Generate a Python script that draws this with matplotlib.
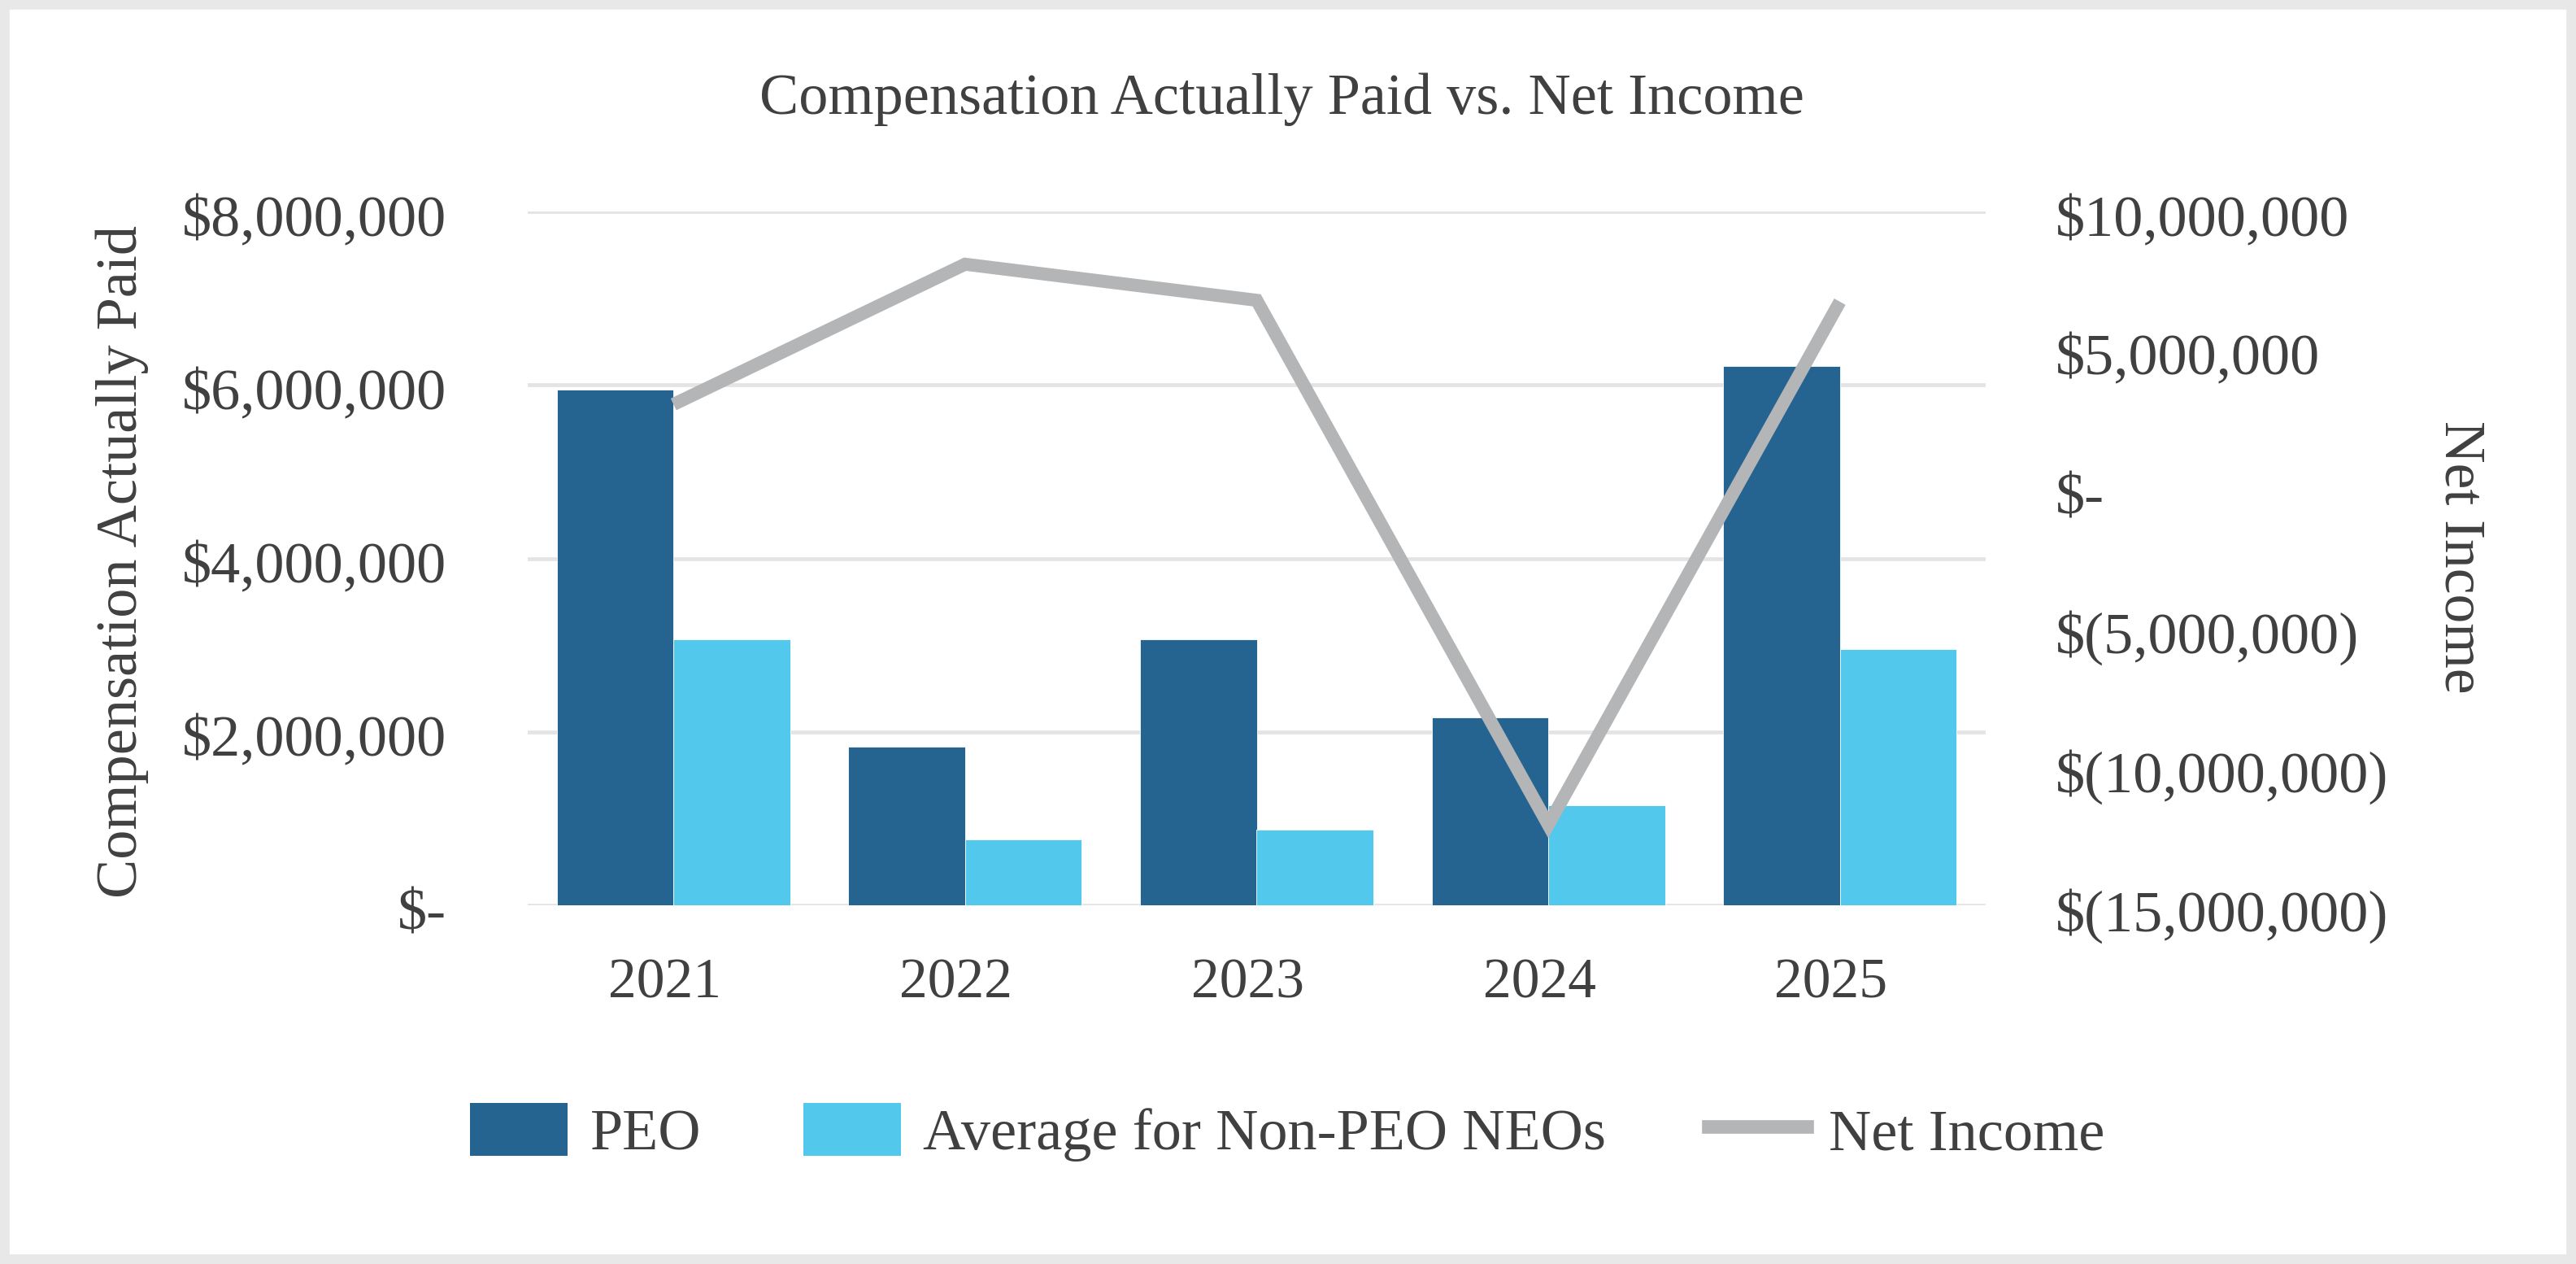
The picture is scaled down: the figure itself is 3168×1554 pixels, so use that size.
import matplotlib
matplotlib.use("Agg")
import matplotlib.pyplot as plt
from matplotlib.patches import Patch, Rectangle
from matplotlib.lines import Line2D
from matplotlib.ticker import FuncFormatter, FixedLocator
from matplotlib.transforms import ScaledTranslation

years = ["2021", "2022", "2023", "2024", "2025"]
peo_cap = [5950000, 1830000, 3070000, 2170000, 6220000]
neo_cap = [3070000, 760000, 870000, 1150000, 2950000]
net_income = [3050000, 8100000, 6800000, -12100000, 6750000]

left_ticks = [0, 2000000, 4000000, 6000000, 8000000]
right_ticks = [-15000000, -10000000, -5000000, 0, 5000000, 10000000]

C_PEO = "#256490"
C_NEO = "#53C8ED"
C_LINE = "#B4B5B7"
C_GRID = "#E4E4E4"
C_TEXT = "#404040"
FONT = ["Liberation Serif", "DejaVu Serif"]

plt.rcParams["font.family"] = FONT
plt.rcParams["text.color"] = C_TEXT
plt.rcParams["axes.labelcolor"] = C_TEXT
plt.rcParams["xtick.color"] = C_TEXT
plt.rcParams["ytick.color"] = C_TEXT

W, H = 3168, 1554
DPI = 100
fig = plt.figure(figsize=(W / DPI, H / DPI), dpi=DPI)
fig.patches.append(Rectangle((0, 0), 1, 1, transform=fig.transFigure,
                             facecolor="white", edgecolor="#E8E8E8",
                             linewidth=17, zorder=-10))

ax = fig.add_axes([649 / W, 1 - 1113 / H, (2442 - 649) / W, (1113 - 260) / H])
ax2 = ax.twinx()

x = list(range(len(years)))
bw = 0.4
ax.bar([i - bw / 2 for i in x], peo_cap, width=bw, color=C_PEO, zorder=3,
       edgecolor="white", linewidth=0.6)
ax.bar([i + bw / 2 for i in x], neo_cap, width=bw, color=C_NEO, zorder=3,
       edgecolor="white", linewidth=0.6)
ax2.plot(x, net_income, color=C_LINE, linewidth=11.5, solid_joinstyle="miter",
         solid_capstyle="butt", zorder=4)

ax.set_xlim(-0.5, len(years) - 0.5)
ax.set_ylim(0, 8000000)
ax2.set_ylim(-15000000, 10000000)

ax.yaxis.set_major_locator(FixedLocator(left_ticks))
ax2.yaxis.set_major_locator(FixedLocator(right_ticks))

def money(v, pos=None):
    if v == 0:
        return "$-"
    if v < 0:
        return "$({:,.0f})".format(-v)
    return "${:,.0f}".format(v)

ax.yaxis.set_major_formatter(FuncFormatter(money))
ax2.yaxis.set_major_formatter(FuncFormatter(money))
ax.set_xticks(x)
ax.set_xticklabels(years)

ax.grid(axis="y", color=C_GRID, linewidth=3.4, zorder=0)
ax.set_axisbelow(True)
for a in (ax, ax2):
    for s in a.spines.values():
        s.set_visible(False)
ax.tick_params(axis="y", length=0, pad=72, labelsize=52)
ax.tick_params(axis="x", length=0, pad=47, labelsize=50)
ax2.tick_params(axis="y", length=0, pad=62, labelsize=52)
ax.set_zorder(1)
ax2.set_zorder(2)
ax.patch.set_visible(False)

down = ScaledTranslation(0, -5 / DPI, fig.dpi_scale_trans)
for lab in ax.get_yticklabels() + ax2.get_yticklabels():
    lab.set_transform(lab.get_transform() + down)
left = ScaledTranslation(-11 / DPI, 0, fig.dpi_scale_trans)
for lab in ax.get_xticklabels():
    lab.set_transform(lab.get_transform() + left)

fig.text(1576 / W, 1 - 140 / H, "Compensation Actually Paid vs. Net Income",
         ha="center", va="baseline", fontsize=52)
fig.text(150 / W, 1 - 691 / H, "Compensation Actually Paid", rotation=90,
         ha="center", va="center", fontsize=52)
fig.text(3025 / W, 1 - 685 / H, "Net Income", rotation=270,
         ha="center", va="center", fontsize=51.5)

handles = [Patch(facecolor=C_PEO, label="PEO"),
           Patch(facecolor=C_NEO, label="Average for Non-PEO NEOs"),
           Line2D([0], [0], color=C_LINE, linewidth=12, label="Net Income")]
fig.legend(handles=handles, loc="center", bbox_to_anchor=(1583 / W, 1 - 1392 / H),
           ncol=3, frameon=False, fontsize=52, handlelength=1.67,
           handleheight=1.0, handletextpad=0.375, columnspacing=1.74)

fig.savefig("out.png", dpi=DPI, facecolor="white")
